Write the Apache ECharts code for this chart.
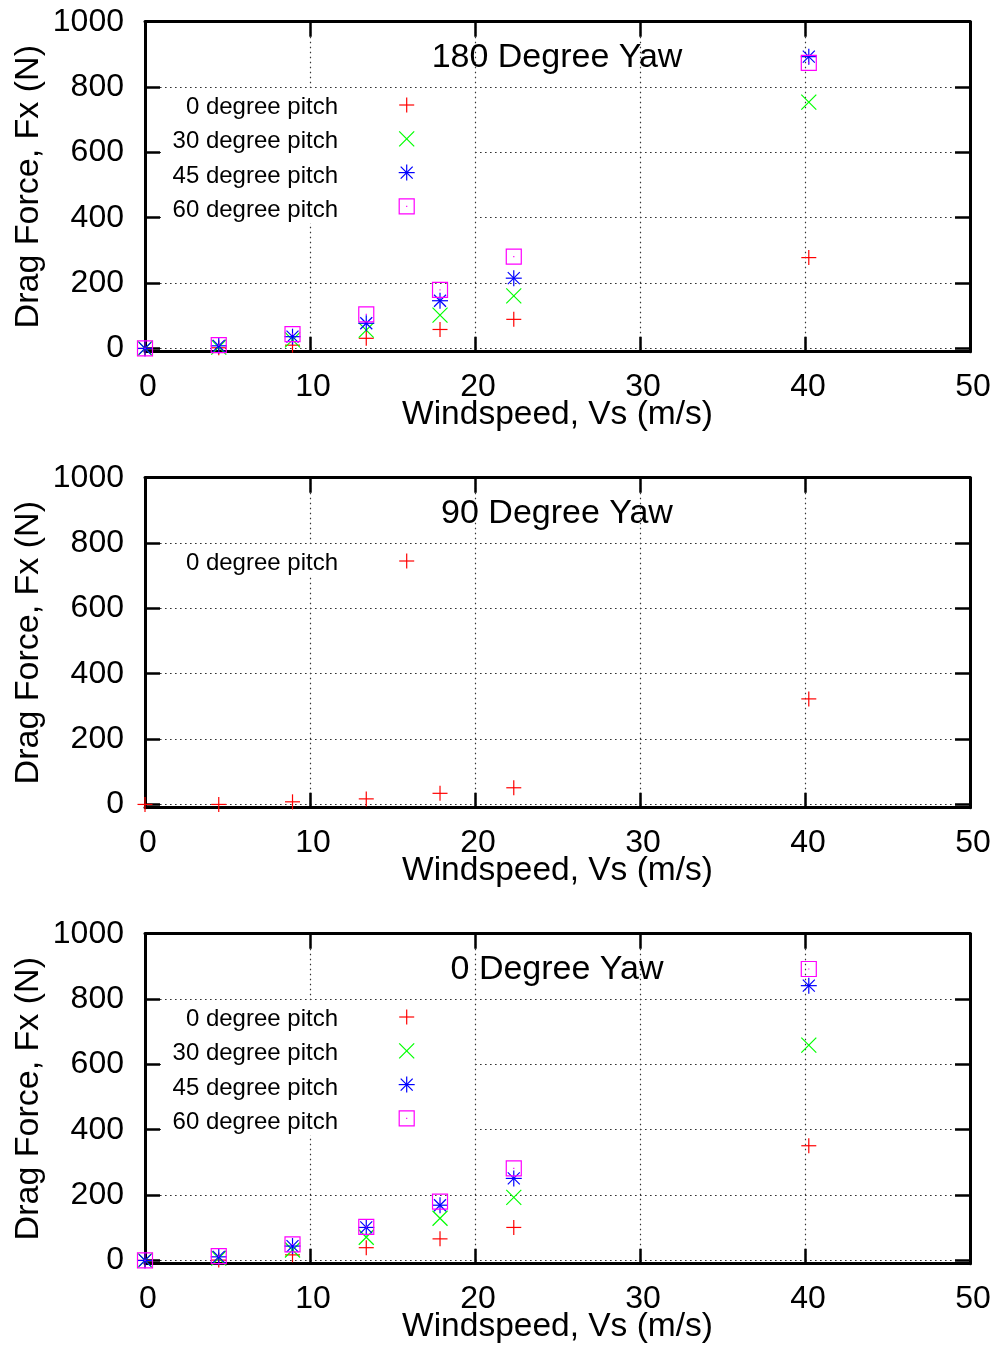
<!DOCTYPE html>
<html>
<head>
<meta charset="utf-8">
<style>html,body{margin:0;padding:0;background:#fff;}#c{width:1000px;height:1348px;}</style>
<script src="https://cdn.jsdelivr.net/npm/echarts@6/dist/echarts.min.js"></script>
</head>
<body>
<div id="c"></div>
<script>
// ---- data ----
const windspeed = [0, 4.47, 8.94, 13.41, 17.88, 22.35, 40.23];
const yaw180_pitch0  = [0, 2, 10, 31, 58, 89, 278];
const yaw180_pitch30 = [0, 4, 26, 56, 102, 161, 754];
const yaw180_pitch45 = [0, 8, 36, 77, 146, 215, 893];
const yaw180_pitch60 = [0, 10, 44, 104, 179, 281, 874];
const yaw90_pitch0   = [0, 0, 8, 17, 34, 51, 323];
const yaw0_pitch0  = [0, 1, 17, 39, 66, 101, 351];
const yaw0_pitch30 = [0, 7, 32, 71, 129, 193, 659];
const yaw0_pitch45 = [0, 11, 44, 101, 169, 251, 841];
const yaw0_pitch60 = [0, 13, 49, 103, 180, 282, 892];
const panelTitles = ['180 Degree Yaw', '90 Degree Yaw', '0 Degree Yaw'];
const pitchNames = ['0 degree pitch', '30 degree pitch', '45 degree pitch', '60 degree pitch'];
const xTicks = [0, 10, 20, 30, 40, 50];
const yTicks = [0, 200, 400, 600, 800, 1000];
const xAxisName = 'Windspeed, Vs (m/s)';
const yAxisName = 'Drag Force, Fx (N)';

const panels = [
  [yaw180_pitch0, yaw180_pitch30, yaw180_pitch45, yaw180_pitch60],
  [yaw90_pitch0],
  [yaw0_pitch0, yaw0_pitch30, yaw0_pitch45, yaw0_pitch60]
];

const colors = ['#ff0000', '#00ff00', '#0000ff', '#ff00ff'];
const markerTypes = ['plus', 'cross', 'star', 'square'];
const FONT = '"Liberation Sans", Arial, Helvetica, sans-serif';
const LW = 1.2;

function markerShapes(type, color, z) {
  const h = 7.5;
  const extra = z != null ? { z: z } : {};
  const line = (x1, y1, x2, y2) => Object.assign({ type: 'line', shape: { x1, y1, x2, y2 }, style: { stroke: color, lineWidth: LW, fill: null } }, extra);
  if (type === 'plus') return [line(-h, 0, h, 0), line(0, -h, 0, h)];
  if (type === 'cross') return [line(-h, -h, h, h), line(-h, h, h, -h)];
  if (type === 'star') {
    const d = 6;
    return [line(-8, 0, 8, 0), line(0, -8, 0, 8), line(-d, -d, d, d), line(-d, d, d, -d)];
  }
  return [
    Object.assign({ type: 'rect', shape: { x: -h, y: -h, width: 2 * h, height: 2 * h }, style: { stroke: color, lineWidth: LW, fill: null } }, extra),
    Object.assign({ type: 'rect', shape: { x: -0.6, y: -0.6, width: 1.2, height: 1.2 }, style: { fill: color, stroke: null } }, extra)
  ];
}

const PANEL_STEP = 456;
const TOP0 = 21.7;
const GRID_H = 330;
const GRID_LEFT = 145;
const GRID_W = 825;

const grid = [], xAxis = [], yAxis = [], series = [], graphic = [];

const gridLine = { show: true, lineStyle: { color: '#333', width: 1.2, type: [1.6, 3.4] } };
const borderLine = { show: true, onZero: false, lineStyle: { color: '#000', width: 3 } };
const tickStyle = { show: true, inside: true, length: 15, lineStyle: { color: '#000', width: 2.5 } };

panels.forEach((sets, p) => {
  const top = TOP0 + p * PANEL_STEP;
  grid.push({ left: GRID_LEFT, top: top, width: GRID_W, height: GRID_H, containLabel: false });
  // bottom x
  xAxis.push({
    gridIndex: p, type: 'value', position: 'bottom', min: 0, max: 50, interval: 10,
    axisLine: borderLine, axisTick: tickStyle, splitLine: gridLine,
    axisLabel: { show: true, margin: 19, color: '#000', fontSize: 32, fontFamily: FONT, padding: [0, 0, 0, 6] },
    name: xAxisName, nameLocation: 'middle', nameGap: 46, nameMoveOverlap: false,
    nameTextStyle: { color: '#000', fontSize: 33.5, fontFamily: FONT }
  });
  // top mirror x
  xAxis.push({
    gridIndex: p, type: 'value', position: 'top', min: 0, max: 50, interval: 10,
    axisLine: borderLine, axisTick: tickStyle, splitLine: { show: false }, axisLabel: { show: false }
  });
  const yCommon = {
    gridIndex: p, type: 'value', min: -10, max: 1000, splitNumber: 5
  };
  yAxis.push(Object.assign({}, yCommon, {
    position: 'left',
    axisLine: borderLine,
    axisTick: Object.assign({}, tickStyle, { customValues: yTicks }),
    splitLine: gridLine,
    axisLabel: { show: true, customValues: yTicks, margin: 21, color: '#000', fontSize: 32, fontFamily: FONT,
      formatter: v => (v < 0 ? '' : String(v)) },
    name: yAxisName, nameLocation: 'middle', nameGap: 99, nameMoveOverlap: false,
    nameTextStyle: { color: '#000', fontSize: 34, fontFamily: FONT }
  }));
  yAxis.push(Object.assign({}, yCommon, {
    position: 'right',
    axisLine: borderLine,
    axisTick: Object.assign({}, tickStyle, { customValues: yTicks }),
    splitLine: { show: false }, axisLabel: { show: false, customValues: yTicks }
  }));

  sets.forEach((vals, s) => {
    const color = colors[s], type = markerTypes[s];
    series.push({
      type: 'custom',
      name: pitchNames[s] + ' ' + p,
      xAxisIndex: p * 2, yAxisIndex: p * 2,
      z: 10,
      clip: false,
      data: windspeed.map((x, i) => [x, vals[i]]),
      renderItem: function (params, api) {
        const pt = api.coord([api.value(0), api.value(1)]);
        return { type: 'group', x: pt[0], y: pt[1], children: markerShapes(type, color) };
      }
    });
  });

  // key background (opaque key box)
  const boxH = sets.length > 1 ? 135 : 31;
  graphic.push({ type: 'rect', z: 5, shape: { x: 161, y: top + 66.5, width: 312, height: boxH }, style: { fill: '#fff' } });
  // key entries
  sets.forEach((vals, s) => {
    graphic.push({ type: 'text', z: 6, x: 338, y: top + 85.8 + s * 34.3,
      style: { text: pitchNames[s], align: 'right', verticalAlign: 'middle', fill: '#000', font: '24px ' + FONT } });
    graphic.push({ type: 'group', z: 6, x: 406.7, y: top + 83.3 + s * 33.8, children: markerShapes(markerTypes[s], colors[s], 7) });
  });
  // title
  graphic.push({ type: 'text', z: 6, x: 557, y: top + 35.5,
    style: { text: panelTitles[p], align: 'center', verticalAlign: 'middle', fill: '#000', font: '34px ' + FONT } });
});

const chart = echarts.init(document.getElementById('c'), null, { renderer: 'canvas' });
chart.setOption({
  animation: false,
  backgroundColor: '#fff',
  grid, xAxis, yAxis, series, graphic
});
</script>
</body>
</html>
